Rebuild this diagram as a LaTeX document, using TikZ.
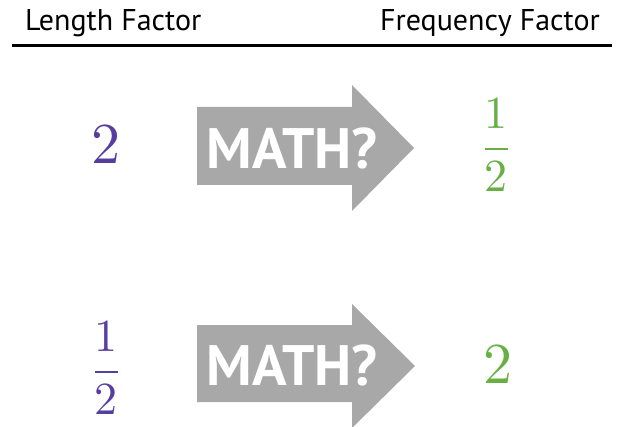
\documentclass[tikz,border=0pt]{standalone}
\usepackage{fontspec}
\usepackage{unicode-math}
\setmathfont{Latin Modern Math}
\newfontfamily\headfont{PT Sans}
\usetikzlibrary{positioning}
\definecolor{lenpurple}{RGB}{86,62,158}
\definecolor{freqgreen}{RGB}{104,176,70}
\definecolor{arrowgray}{RGB}{168,168,168}
\begin{document}
\begin{tikzpicture}[
  x=1pt, y=-1pt,
  header/.style={font=\headfont\fontsize{30}{34}\selectfont, inner sep=0pt},
  mathshape/.style={fill=arrowgray},
  mathlabel/.style={font=\headfont\bfseries\fontsize{57}{60}\selectfont, text=white, inner sep=0pt},
  lenval/.style={text=lenpurple, inner sep=0pt},
  freqval/.style={text=freqgreen, inner sep=0pt}
]
  \useasboundingbox (0,0) rectangle (617,427);

  % column heads
  \node[header, anchor=base west] (lenhead) at (25,31) {Length Factor};
  \node[header, anchor=base east] (freqhead) at (600,31) {Frequency Factor};
  \draw[line width=3pt] (12,46) -- (612,46);

  % first row
  \fill[mathshape] (197,107) -- (352,107) -- (352,85) -- (414,148) -- (352,211) -- (352,185) -- (197,185) -- cycle;
  \node[mathlabel] (math1) at (292,148) {MATH?};
  \node[lenval, font=\fontsize{58}{60}\selectfont] (len1) at (106,144) {$2$};
  \node[freqval, font=\fontsize{46}{50}\selectfont] (freq1) at (496,145) {$\displaystyle\frac{1}{2}$};

  % second row
  \fill[mathshape] (197,325) -- (352,325) -- (352,304) -- (415,366) -- (352,428) -- (352,402) -- (197,402) -- cycle;
  \node[mathlabel] (math2) at (292,365) {MATH?};
  \node[lenval, font=\fontsize{46}{50}\selectfont] (len2) at (106,368) {$\displaystyle\frac{1}{2}$};
  \node[freqval, font=\fontsize{58}{60}\selectfont] (freq2) at (498,364) {$2$};

\end{tikzpicture}
\end{document}
